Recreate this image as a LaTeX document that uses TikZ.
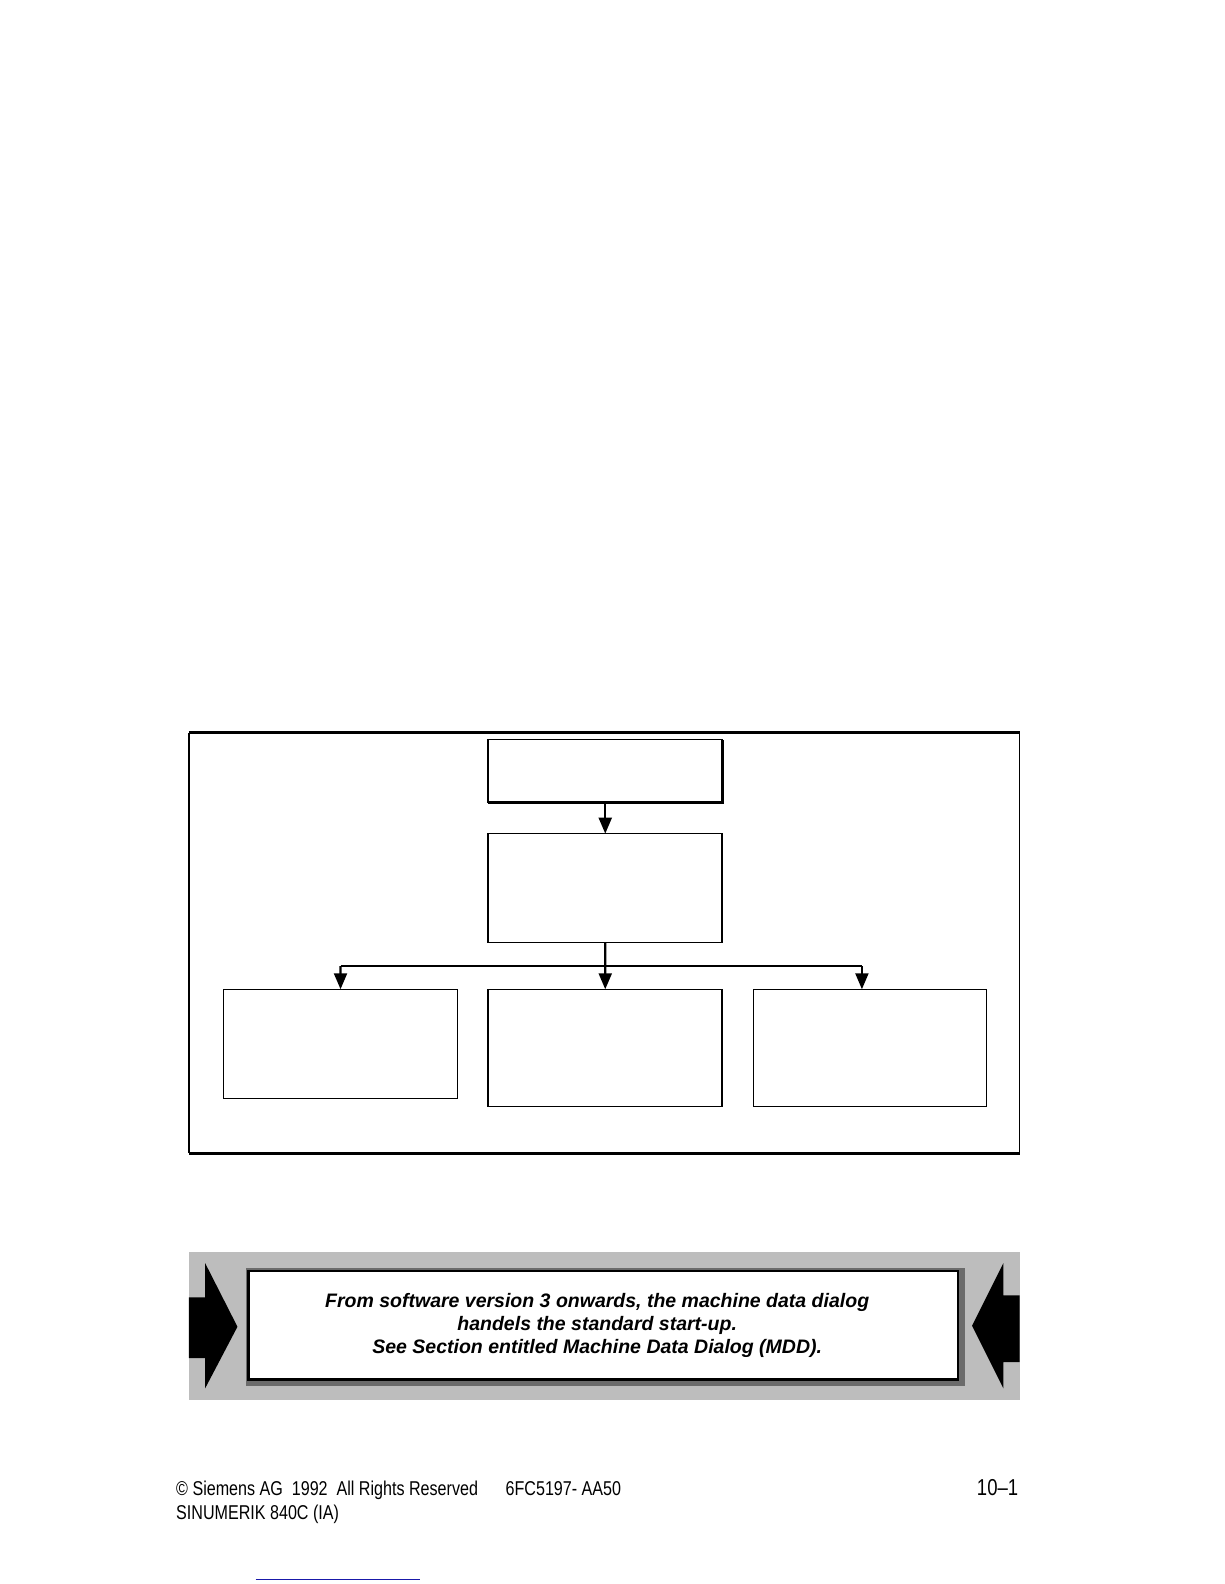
\documentclass[tikz,border=0pt]{standalone}
\usepackage{fontspec}
\setmainfont{Liberation Sans}
\newfontfamily\narrowfont[FakeStretch=0.805]{Liberation Sans}
\usetikzlibrary{arrows.meta}
\definecolor{linkblue}{RGB}{25,25,170}
\definecolor{dither}{gray}{0.74}
\definecolor{ditherdark}{gray}{0.42}
\tikzset{
  box/.style={draw, line width=0.6pt, inner sep=0pt, outer sep=0pt, anchor=north west},
  flow/.style={line width=1.1pt, -{Triangle[width=6.5pt,length=8pt]}},
  trunk/.style={line width=1.1pt},
  heavy/.style={line width=1.3pt},
  foot/.style={font=\narrowfont\fontsize{10}{12}\selectfont, inner sep=0pt, anchor=base west},
}
\begin{document}
\begin{tikzpicture}[x=0.5052pt,y=-0.5052pt]
\useasboundingbox (0,0) rectangle (1211.4,1567.6);

% outer frame
\node[anchor=north west, inner sep=0pt, outer sep=0pt, minimum width=415.3pt, minimum height=210.2pt] (frame) at (187,725) {};
\draw[line width=0.7pt] (frame.north west) -- (frame.south west);
\draw[line width=0.7pt] (frame.north east) -- (frame.south east);
\draw[line width=1.5pt] (frame.north west) -- (frame.north east);
\draw[line width=1.5pt] (frame.south west) -- (frame.south east);

% boxes
\node[box, minimum width=117.2pt, minimum height=31.3pt] (top) at (483,732) {};
\node[box, minimum width=117.2pt, minimum height=54.6pt] (mid) at (483,825) {};
\node[box, minimum width=117.2pt, minimum height=54.6pt] (bl) at (221,979) {};
\node[box, minimum width=117.2pt, minimum height=58.6pt] (bm) at (483,979) {};
\node[box, minimum width=116.2pt, minimum height=58.6pt] (br) at (746,979) {};
\draw[heavy] (top.south west) -- (top.south east) -- (top.north east);
\draw[line width=1.0pt] (mid.north east) -- (mid.south east);
\draw[line width=1.0pt] (bm.north east) -- (bm.south east);

% connectors
\coordinate (j) at (599,956);
\coordinate (jl) at (337,956);
\coordinate (jr) at (853,956);
\draw[flow] (top.south) -- (mid.north);
\draw[trunk] (mid.south) -- (j);
\draw[heavy] (jl) -- (jr);
\draw[flow] (jl) -- (bl.north);
\draw[flow] (j) -- (bm.north);
\draw[flow] (jr) -- (jr |- br.north);

% banner
\fill[dither] (187,1239) rectangle (1009,1385);
\fill[ditherdark] (243,1255) rectangle (955,1372);
\node[box, line width=1.2pt, fill=white, minimum width=354.7pt, minimum height=54.1pt] (note) at (246,1258) {};
\node[font=\fontsize{9.75}{11.6}\selectfont\bfseries\itshape, align=center, inner sep=0pt] (msg) at (591,1312)
  {From software version 3 onwards, the machine data dialog\\handels the standard start-up.\\See Section entitled Machine Data Dialog (MDD).};
\fill (187,1284) -- (203,1284) -- (203,1250) -- (235,1313) -- (203,1374) -- (203,1344) -- (187,1344) -- cycle;
\fill (1009,1282) -- (993,1282) -- (993,1250) -- (962,1312) -- (993,1374) -- (993,1348) -- (1009,1348) -- cycle;

% footer
\node[foot] (copy) at (174,1480) {© Siemens AG\ \ 1992\ \ All Rights Reserved};
\node[foot] (order) at (500,1480) {6FC5197- AA50};
\node[foot, anchor=base east, font=\narrowfont\fontsize{11.5}{13}\selectfont] (page) at (1008,1480) {10–1};
\node[foot] (prod) at (174,1504) {SINUMERIK 840C (IA)};
\draw[linkblue, line width=0.8pt] (253,1563) -- (416,1563);
\end{tikzpicture}
\end{document}
